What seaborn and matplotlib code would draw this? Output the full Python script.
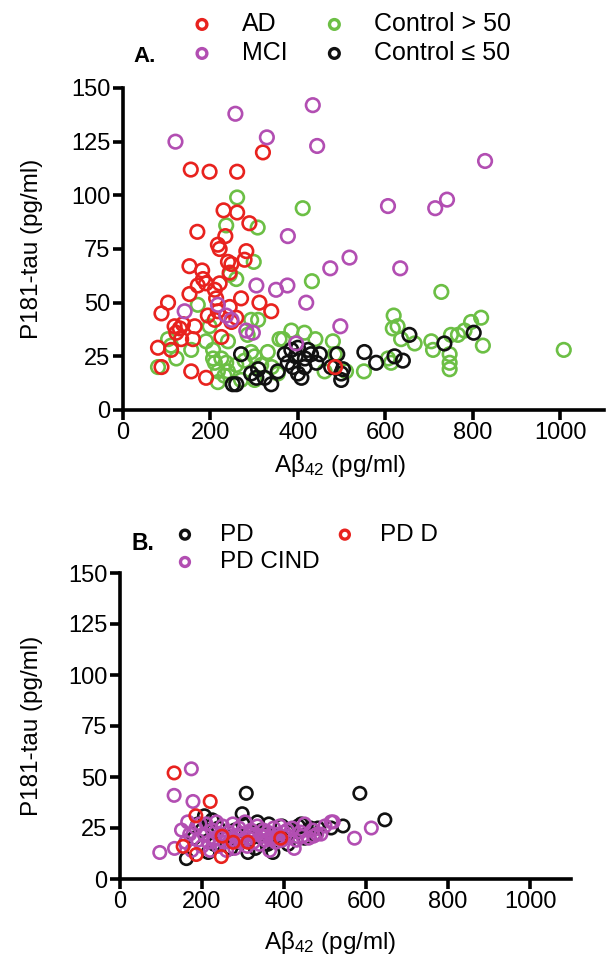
import matplotlib
matplotlib.use("Agg")
import matplotlib.pyplot as plt
import seaborn as sns
import pandas as pd

# ---------------- Panel A data ----------------
ad_x = [320,155,198,261,230,261,289,170,234,217,221,282,278,240,248,152,181,103,88,152,
        171,190,183,210,213,221,244,270,312,339,194,217,244,259,248,118,130,137,122,164,
        160,133,80,110,88,156,190,225,210,485]
ad_y = [120,112,111,111,93,92,87,83,81,77,75,74,70,69,68,67,65,50,45,54,
        58,59,61,56,52,59,64,52,50,46,44,46,48,43,41,39,38,40,36,39,
        33,33,29,28,20,18,15,34,42,20]

mci_x = [120,257,329,434,444,828,606,714,741,377,518,474,634,419,497,141,217,248,236,282,
         297,305,350,376,396]
mci_y = [125,138,127,142,123,116,95,94,98,81,71,66,66,50,39,46,49,42,44,37,
         36,58,56,58,31]

ctl_hi_x = [261,411,236,308,299,244,432,728,259,171,80,103,110,122,156,198,206,206,210,225,
            217,232,236,240,240,217,259,278,293,293,301,301,316,331,354,358,366,385,415,309,
            480,484,461,510,551,606,613,619,617,628,636,667,705,709,747,747,747,750,766,781,
            796,819,823,1008,340,270,440,285,190]
ctl_hi_y = [99,94,86,85,69,63,60,55,61,49,20,33,30,24,28,39,28,24,22,24,
            18,16,22,32,18,13,21,23,42,27,25,14,21,27,17,33,33,37,36,42,
            32,26,18,18,18,24,22,44,38,39,33,31,32,28,26,22,19,35,35,37,
            41,43,30,28,20,14,33,35,32]

ctl_lo_x = [270,251,259,293,305,324,339,309,354,370,385,400,423,430,450,377,389,415,442,400,
            408,490,499,499,476,503,552,579,621,640,655,735,802,416,395]
ctl_lo_y = [26,12,12,17,15,15,12,19,18,26,28,29,28,26,26,22,20,20,22,17,
            15,26,17,14,20,19,27,22,25,23,35,31,36,24,25]

# ---------------- Panel B data ----------------
pd_x = [308,206,298,162,363,442,515,544,585,646,483,312,373,180,200,215,230,240,255,270,
        280,290,300,320,330,345,360,380,395,410,420,435,450,465,475,190,225,335]
pd_y = [42,31,32,10,27,27,25,26,42,29,25,13,13,20,24,13,17,25,21,15,
        24,18,27,20,15,24,17,21,26,17,23,26,20,25,22,27,29,28]

cind_x = [174,132,178,97,133,520,572,613,160,170,175,185,190,195,200,205,210,215,220,225,
          230,235,240,245,250,255,260,265,270,275,280,285,290,295,300,305,310,315,320,325,
          330,335,340,345,350,355,360,365,370,375,380,385,390,395,400,410,420,425,430,440,
          450,460,470,480,490,500,150,165,515,262,318,352,408,445,472,228,296,384]
cind_y = [54,41,38,13,15,28,20,25,18,22,14,25,19,27,16,22,27,18,14,24,
          20,28,16,22,26,18,14,23,19,27,15,21,25,18,22,28,16,20,24,18,
          22,26,17,21,24,19,23,14,20,25,18,22,26,19,23,21,25,15,19,23,
          27,20,24,22,22,26,24,28,28,20,22,21,24,21,21,19,19,20]

pdd_x = [132,220,185,154,186,247,249,276,312,392]
pdd_y = [52,38,31,16,12,11,21,18,18,20]

x_ticks = [0, 200, 400, 600, 800, 1000]
y_ticks = [0, 25, 50, 75, 100, 125, 150]

RED = "#E8221E"
PURPLE = "#B24EB2"
GREEN = "#6CBF45"
BLACK = "#111111"

sns.set_theme(style="ticks")
plt.rcParams['font.family'] = ['Liberation Sans', 'DejaVu Sans']
plt.rcParams['mathtext.fontset'] = 'custom'
plt.rcParams['mathtext.rm'] = 'Liberation Sans'
plt.rcParams['mathtext.it'] = 'Liberation Sans:italic'
plt.rcParams['mathtext.bf'] = 'Liberation Sans:bold'

fig = plt.figure(figsize=(6.06, 9.59), dpi=100)
axA = fig.add_axes([123/606, 1-410/959, 481/606, 322/959])
axB = fig.add_axes([120/606, 1-879/959, 451/606, 306/959])


def draw(ax, xs, ys, color, label, s):
    df = pd.DataFrame({"x": xs, "y": ys})
    sns.scatterplot(data=df, x="x", y="y", ax=ax, marker="o", s=s,
                    facecolor="none", edgecolor=color, linewidth=1.9,
                    label=label, clip_on=False, legend=False)


draw(axA, ctl_hi_x, ctl_hi_y, GREEN, "Control > 50", 95)
draw(axA, ctl_lo_x, ctl_lo_y, BLACK, "Control \u2264 50", 95)
draw(axA, ad_x, ad_y, RED, "AD", 95)
draw(axA, mci_x, mci_y, PURPLE, "MCI", 95)

draw(axB, pd_x, pd_y, BLACK, "PD", 80)
draw(axB, cind_x, cind_y, PURPLE, "PD CIND", 80)
draw(axB, pdd_x, pdd_y, RED, "PD D", 80)

for ax in (axA, axB):
    ax.set_xlim(0, 1100)
    ax.set_ylim(0, 150)
    ax.set_xticks(x_ticks)
    ax.set_yticks(y_ticks)
    sns.despine(ax=ax)
    for sp in ("left", "bottom"):
        ax.spines[sp].set_linewidth(2.6)
        ax.spines[sp].set_color("black")
    ax.tick_params(direction="out", length=7, width=2.6, labelsize=17,
                   pad=2, color="black", labelcolor="black")
    ax.set_ylabel("P181-tau (pg/ml)", fontsize=17.5, color="black")
    ax.set_xlabel("A\u03b2$_{42}$ (pg/ml)", fontsize=17.5, color="black")
    ax.yaxis.label.set_va("center")
    ax.xaxis.label.set_va("center")

axA.yaxis.set_label_coords(-0.19, 0.5)
axA.xaxis.set_label_coords(0.451, -0.171)
axB.yaxis.set_label_coords(-0.195, 0.5)
axB.xaxis.set_label_coords(0.466, -0.207)


def make_legend(ax, order, anchor, fs, tpad, cspace, lspace):
    h, l = ax.get_legend_handles_labels()
    d = dict(zip(l, h))
    leg = ax.legend([d[k] for k in order], order, loc="upper left",
                    bbox_to_anchor=anchor, bbox_transform=fig.transFigure,
                    ncol=2, frameon=False, fontsize=fs, handlelength=1.0,
                    handletextpad=tpad, columnspacing=cspace,
                    labelspacing=lspace, borderpad=0, borderaxespad=0,
                    markerscale=0.72, scatterpoints=1)
    for t in leg.get_texts():
        t.set_color("black")
    for hnd in leg.legend_handles:
        hnd.set_linewidth(2.4)
    return leg


make_legend(axA, ["AD", "MCI", "Control > 50", "Control \u2264 50"],
            (189.5/606, 1-12/959), 18, 1.09, 1.38, 0.2)
make_legend(axB, ["PD", "PD CIND", "PD D"],
            (172.8/606, 1-524/959), 17.5, 0.95, 0.53, 0.22)

fig.text(145/606, 1-56/959, "A.", fontsize=16, fontweight="bold",
         ha="center", va="center", color="black")
fig.text(143/606, 1-544/959, "B.", fontsize=16.5, fontweight="bold",
         ha="center", va="center", color="black")

fig.savefig("out.png", dpi=100)
